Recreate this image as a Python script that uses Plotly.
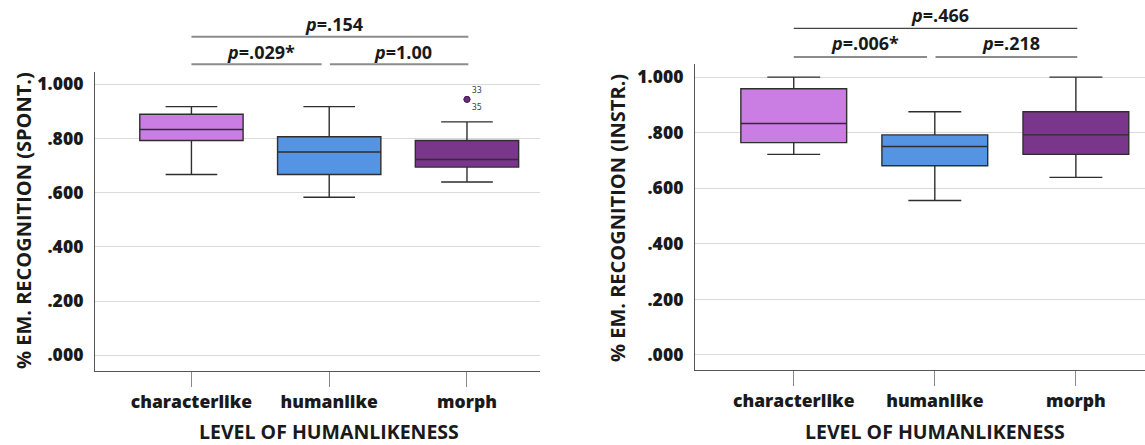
import plotly.graph_objects as go

# ---------------- data ----------------
categories = ["characterlike", "humanlike", "morph"]
box_colors = ["#CA7EE3", "#5494E3", "#7A368A"]

# Spontaneous emotion recognition (left panel)
spont_lowerfence = [0.667, 0.583, 0.639]
spont_q1 = [0.792, 0.667, 0.694]
spont_median = [0.833, 0.750, 0.722]
spont_q3 = [0.889, 0.806, 0.792]
spont_upperfence = [0.917, 0.917, 0.861]
spont_outlier_cat = ["morph", "morph"]
spont_outlier_val = [0.944, 0.944]
spont_outlier_id = ["33", "35"]

# Instructed emotion recognition (right panel)
instr_lowerfence = [0.722, 0.556, 0.639]
instr_q1 = [0.764, 0.681, 0.722]
instr_median = [0.833, 0.750, 0.792]
instr_q3 = [0.958, 0.792, 0.875]
instr_upperfence = [1.000, 0.875, 1.000]

y_tickvals = [0.0, 0.2, 0.4, 0.6, 0.8, 1.0]
y_ticktext = [".000", ".200", ".400", ".600", ".800", "1.000"]

# pairwise comparisons: (group a, group b, p value)
spont_tests = [("characterlike", "morph", ".154"),
               ("characterlike", "humanlike", ".029*"),
               ("humanlike", "morph", "1.00")]
instr_tests = [("characterlike", "morph", ".466"),
               ("characterlike", "humanlike", ".006*"),
               ("humanlike", "morph", ".218")]

y_title_spont = "% EM. RECOGNITION (SPONT.)"
y_title_instr = "% EM. RECOGNITION (INSTR.)"
x_title = "LEVEL OF HUMANLIKENESS"

# ---------------- figure ----------------
W, H = 1145, 445
FONT = "Open Sans"
TXT = "#1a1a1a"

def px_x(p):
    return p / W

def px_y(p):
    return (H - p) / H

fig = go.Figure()

def add_boxes(xa, ya, lo, q1, med, q3, hi):
    for i, cat in enumerate(categories):
        fig.add_trace(go.Box(
            x=[cat], q1=[q1[i]], median=[med[i]], q3=[q3[i]],
            lowerfence=[lo[i]], upperfence=[hi[i]],
            fillcolor=box_colors[i],
            line=dict(color="#2e2e2e", width=1.4),
            width=0.75, whiskerwidth=0.5, boxpoints=False,
            xaxis=xa, yaxis=ya, showlegend=False, hoverinfo="skip",
        ))

add_boxes("x", "y", spont_lowerfence, spont_q1, spont_median, spont_q3, spont_upperfence)
add_boxes("x2", "y2", instr_lowerfence, instr_q1, instr_median, instr_q3, instr_upperfence)

fig.add_trace(go.Scatter(
    x=spont_outlier_cat, y=spont_outlier_val, mode="markers+text",
    text=spont_outlier_id, textposition=["top right", "bottom right"],
    textfont=dict(family="DejaVu Sans", size=8, color="#444"),
    marker=dict(size=6, color="#6B2D7B", line=dict(color="#4a1f57", width=1)),
    xaxis="x", yaxis="y", showlegend=False, hoverinfo="skip",
))

axis_common_x = dict(
    type="category", categoryorder="array", categoryarray=categories,
    showline=True, linecolor="#555555", linewidth=1.2,
    ticks="outside", ticklen=15, tickcolor="#8a8a8a", tickwidth=1,
    tickfont=dict(family=FONT, size=17.5, color=TXT, weight=800),
    showgrid=False, zeroline=False, fixedrange=True,
)
axis_common_y = dict(
    tickvals=y_tickvals, ticktext=y_ticktext,
    showline=True, linecolor="#555555", linewidth=1.2,
    ticks="", ticklabelstandoff=7,
    tickfont=dict(family=FONT, size=17.5, color=TXT, weight=800),
    showgrid=True, gridcolor="#dadada", gridwidth=1,
    zeroline=False, fixedrange=True,
)

fig.update_layout(
    width=W, height=H,
    margin=dict(l=0, r=0, t=0, b=0),
    paper_bgcolor="white", plot_bgcolor="white",
    boxmode="overlay",
    xaxis=dict(axis_common_x, domain=[px_x(95), px_x(540)], range=[-0.70, 2.53], anchor="y"),
    yaxis=dict(axis_common_y, domain=[px_y(370.7), px_y(71.7)], range=[-0.057, 1.046], anchor="x"),
    xaxis2=dict(axis_common_x, domain=[px_x(695), 1.0], range=[-0.70, 2.49], anchor="y2"),
    yaxis2=dict(axis_common_y, domain=[px_y(370), px_y(64.3)], range=[-0.054, 1.046], anchor="x2"),
)

shapes = []
annotations = []

def add_tests(xref, tests, top_line, low_line, top_text, low_text, line_top, line_low):
    for a, b, p in tests:
        ia, ib = categories.index(a), categories.index(b)
        if ib - ia > 1:
            x0, x1, yl, yt, ln = ia, ib + 0.01, top_line, top_text, line_top
        else:
            x0 = ia + (0.005 if ia > 0 else 0.0)
            x1 = ib - (0.055 if ib < len(categories) - 1 else -0.01)
            yl, yt, ln = low_line, low_text, line_low
        shapes.append(dict(type="line", xref=xref, yref="paper",
                           x0=x0, x1=x1, y0=px_y(yl), y1=px_y(yl), line=ln))
        annotations.append(dict(xref=xref, yref="paper", x=(x0 + x1) / 2 + 0.03, y=px_y(yt),
                                text="<b><i>p</i>=" + p + "</b>", showarrow=False,
                                xanchor="center", yanchor="middle",
                                font=dict(family=FONT, size=18, color=TXT, weight=800)))

add_tests("x", spont_tests, 36.7, 64.3, 24, 51.7,
          dict(color="#8c8c8c", width=2), dict(color="#8c8c8c", width=2))
add_tests("x2", instr_tests, 28.3, 57, 15, 42.7,
          dict(color="#444444", width=1.2), dict(color="#8c8c8c", width=2))

# axis titles
for xp, yc, t in [(23, 221, y_title_spont), (617, 218, y_title_instr)]:
    annotations.append(dict(xref="paper", yref="paper", x=px_x(xp), y=px_y(yc),
                            text="<b>" + t + "</b>", textangle=-90, showarrow=False,
                            xanchor="center", yanchor="middle",
                            font=dict(family=FONT, size=20, color=TXT, weight=800)))
for xref in ["x", "x2"]:
    annotations.append(dict(xref=xref, yref="paper", x=categories.index("humanlike"), y=px_y(431.5),
                            text="<b>" + x_title + "</b>", showarrow=False,
                            xanchor="center", yanchor="middle",
                            font=dict(family=FONT, size=19.5, color=TXT, weight=800)))

fig.update_layout(shapes=shapes, annotations=annotations)

fig.write_html("out.html", config={"displayModeBar": False},
               post_script="document.body.style.margin='0px';document.body.style.overflow='hidden';")
